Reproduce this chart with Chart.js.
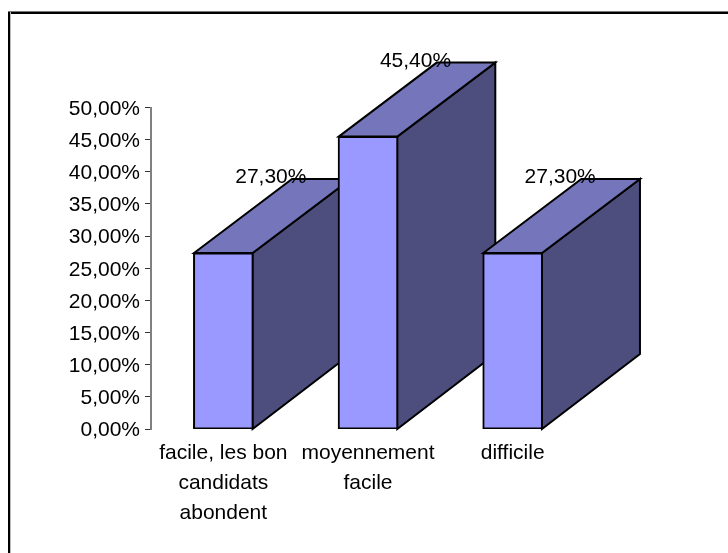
<!DOCTYPE html>
<html><head><meta charset="utf-8">
<style>
html,body{margin:0;padding:0;background:#fff;overflow:hidden}
#wrap{position:absolute;left:0;top:0;width:728px;height:553px}
#frameT{position:absolute;left:8px;top:12px;width:720px;height:2px;background:#000;box-shadow:0 -1px 0 #777}
#frameL{position:absolute;left:8px;top:12px;width:2px;height:541px;background:#000;box-shadow:1px 0 0 #bbb}
canvas{position:absolute;left:0;top:0}
</style>
<script src="https://cdn.jsdelivr.net/npm/chart.js@4"></script>
</head><body>
<div id="wrap"><canvas id="c" width="728" height="553"></canvas><div id="frameT"></div><div id="frameL"></div></div>
<script>
const categories = [["facile, les bon","candidats","abondent"],["moyennement","facile"],["difficile"]];
const values = [27.3,45.4,27.3];
const valueLabels = ["27,30%","45,40%","27,30%"];
const FONT = "Liberation Sans, Arial, sans-serif";
const depthX = 98, depthY = 74;
const cFront="#9999ff", cTop="#7575bb", cSide="#4d4d7e";

const depth = {
  id:'depth',
  afterUpdate(chart){
    chart.scales.y.getLabelItems().forEach(i=>{ i.textOffset += 1.5; });
  },
  beforeDatasetsDraw(chart){
    const ctx=chart.ctx, meta=chart.getDatasetMeta(0), base=chart.scales.y.getPixelForValue(0);
    ctx.save();
    ctx.lineWidth=2; ctx.strokeStyle='#000'; ctx.lineJoin='miter';
    meta.data.forEach(b=>{
      const l=b.x-b.width/2, r=b.x+b.width/2, t=b.y-0.5, bt=base;
      ctx.fillStyle=cSide;
      ctx.beginPath();ctx.moveTo(r,t);ctx.lineTo(r+depthX,t-depthY);ctx.lineTo(r+depthX,bt-depthY-1);ctx.lineTo(r,bt);ctx.closePath();ctx.fill();ctx.stroke();
      ctx.fillStyle=cTop;
      ctx.beginPath();ctx.moveTo(l,t);ctx.lineTo(l+depthX,t-depthY);ctx.lineTo(r+depthX,t-depthY);ctx.lineTo(r,t);ctx.closePath();ctx.fill();ctx.stroke();
    });
    ctx.restore();
  },
  afterDatasetsDraw(chart){
    const ctx=chart.ctx, meta=chart.getDatasetMeta(0);
    ctx.save();
    ctx.font="21px "+FONT; ctx.fillStyle="#000"; ctx.textAlign="center"; ctx.textBaseline="middle";
    meta.data.forEach((b,i)=>{ ctx.fillText(valueLabels[i], b.x+47.5, b.y-76); });
    ctx.restore();
  }
};

new Chart(document.getElementById('c'),{
  type:'bar',
  data:{labels:categories,datasets:[{data:values,backgroundColor:cFront,borderColor:'#000',borderWidth:2,borderSkipped:false,inflateAmount:1,barPercentage:58.6/144.67,categoryPercentage:1}]},
  plugins:[depth],
  options:{
    responsive:false,animation:false,
    layout:{padding:{left:0,top:107.5,right:143,bottom:0}},
    plugins:{legend:{display:false},title:{display:false},tooltip:{enabled:false}},
    scales:{
      x:{
        afterFit(s){s.height=124;},
        grid:{display:false,drawTicks:false},
        border:{display:false},
        ticks:{font:{family:FONT,size:21,lineHeight:30/21},color:'#000',maxRotation:0,autoSkip:false,padding:9}
      },
      y:{
        min:0,max:50,
        afterFit(s){s.width=151;},
        grid:{display:true,drawOnChartArea:false,drawTicks:true,tickLength:6,color:'#333',lineWidth:1},
        border:{display:true,color:'#808080',width:2},
        ticks:{stepSize:5,font:{family:FONT,size:21},color:'#000',padding:5,
          callback:v=>v.toFixed(2).replace('.',',')+'%'}
      }
    }
  }
});
</script>
</body></html>
